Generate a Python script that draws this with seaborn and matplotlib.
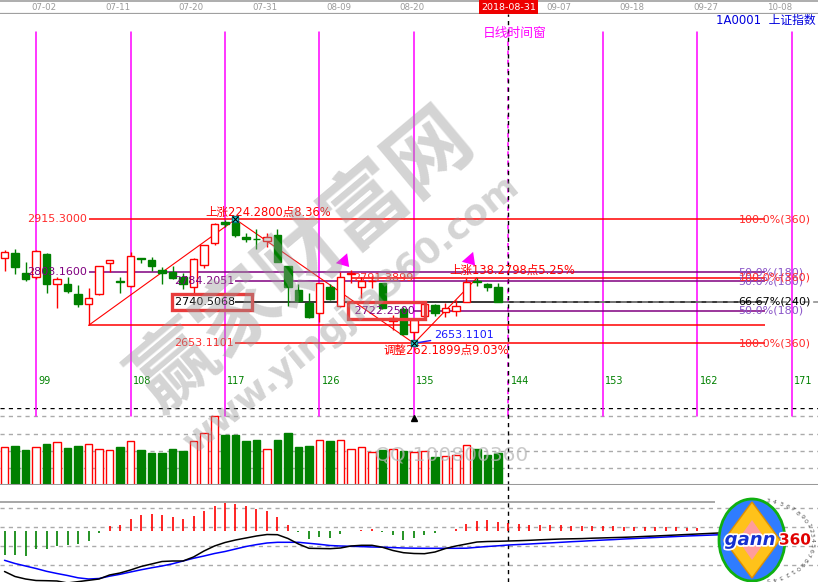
import numpy as np
import matplotlib
matplotlib.use("Agg")
import matplotlib.pyplot as plt
import matplotlib.patheffects as pe
from matplotlib.patches import Ellipse, Polygon
import seaborn as sns

# daily candles of 上证指数, numbered by bar index
bar_idx = list(range(96, 144))
opens = [2832.8, 2844.0, 2801.1, 2793.3, 2842.0, 2778.5, 2778.5, 2757.3, 2736.2, 2757.3,
         2822.3, 2783.8, 2773.6, 2832.3, 2829.2, 2808.1, 2804.5, 2792.7, 2771.5, 2818.0,
         2864.5, 2910.2, 2906.8, 2878.5, 2873.5, 2869.4, 2882.1, 2816.5, 2765.8, 2737.7,
         2716.5, 2771.5, 2732.0, 2800.0, 2771.5, 2784.5, 2780.0, 2700.2, 2725.0, 2677.6,
         2710.8, 2734.1, 2719.9, 2721.4, 2741.1, 2784.0, 2777.8, 2771.5]
highs = [2850.4, 2852.5, 2825.6, 2849.7, 2844.7, 2793.9, 2793.9, 2775.7, 2770.0, 2817.0,
         2829.5, 2792.7, 2846.2, 2832.6, 2834.9, 2814.4, 2816.5, 2802.4, 2833.0, 2862.0,
         2908.0, 2913.8, 2915.3, 2887.0, 2894.2, 2885.7, 2894.2, 2817.0, 2777.8, 2758.8,
         2781.0, 2777.8, 2803.2, 2808.1, 2793.9, 2793.9, 2781.0, 2712.9, 2730.5, 2705.0,
         2736.2, 2736.0, 2738.9, 2744.6, 2790.5, 2791.39, 2780.0, 2780.0]
lows = [2806.6, 2800.3, 2785.5, 2788.4, 2760.1, 2727.1, 2758.8, 2730.5, 2691.0, 2755.0,
        2803.2, 2758.8, 2772.0, 2822.3, 2806.6, 2778.5, 2789.1, 2767.3, 2758.8, 2811.7,
        2862.0, 2899.7, 2877.2, 2866.7, 2851.9, 2857.4, 2824.0, 2732.0, 2741.0, 2707.5,
        2698.8, 2745.0, 2729.0, 2780.0, 2748.2, 2769.4, 2725.0, 2681.2, 2670.0, 2653.11,
        2708.0, 2711.4, 2708.1, 2710.8, 2740.0, 2774.3, 2763.7, 2741.1]
closes = [2846.8, 2815.1, 2789.7, 2848.3, 2779.1, 2788.4, 2763.0, 2736.2, 2748.9, 2815.9,
          2828.6, 2783.3, 2837.1, 2832.0, 2816.5, 2801.7, 2790.5, 2778.5, 2830.7, 2860.3,
          2904.7, 2904.7, 2882.1, 2873.6, 2873.0, 2877.2, 2825.6, 2771.5, 2743.2, 2709.3,
          2780.0, 2746.8, 2793.9, 2801.0, 2785.5, 2785.5, 2727.1, 2705.9, 2672.8, 2702.4,
          2736.2, 2717.8, 2728.4, 2732.0, 2782.1, 2783.3, 2771.5, 2741.1]
volumes = [1320, 1365, 1225, 1320, 1435, 1495, 1295, 1365, 1425, 1250,
           1215, 1330, 1530, 1225, 1120, 1120, 1260, 1190, 1530, 1810,
           2405, 1750, 1750, 1540, 1575, 1250, 1575, 1820, 1330, 1365,
           1565, 1540, 1565, 1250, 1320, 1155, 1225, 1250, 1200, 1145,
           1190, 980, 1005, 1040, 1390, 1260, 1050, 1120]

# MACD (runs on past the last bar)
macd_idx = list(range(96, 165))
dif = [-41.0, -46.0, -48.5, -50.0, -50.2, -50.5, -52.5, -54.5, -52.5, -48.5,
       -44.5, -42.5, -39.5, -36.0, -33.5, -31.0, -30.5, -30.5, -26.5, -20.5,
       -15.5, -12.0, -9.5, -7.5, -5.5, -4.0, -4.2, -8.0, -13.5, -17.8,
       -18.0, -18.2, -17.5, -15.5, -14.8, -14.8, -16.8, -20.0, -22.2, -23.0,
       -23.2, -21.5, -18.0, -15.5, -13.5, -11.5, -11.0, -10.8, -10.5, -10.2,
       -9.8, -9.3, -8.9, -8.5, -8.3, -8.1, -7.7, -7.4, -7.1, -6.8,
       -6.4, -5.9, -5.5, -5.0, -4.5, -4.0, -3.5, -3.0, -2.5]
dea = [-29.8, -33.0, -35.5, -38.0, -40.8, -43.0, -45.0, -47.3, -48.5, -48.0,
       -45.7, -43.8, -41.5, -39.3, -37.3, -35.5, -33.3, -30.5, -27.8, -25.5,
       -23.0, -21.0, -18.5, -16.0, -14.1, -12.5, -11.8, -11.8, -11.8, -12.8,
       -13.8, -15.0, -15.5, -15.8, -16.1, -16.5, -16.7, -17.1, -17.5, -17.7,
       -17.8, -17.8, -17.8, -17.8, -17.7, -16.8, -16.0, -15.3, -14.5, -14.0,
       -13.5, -12.9, -12.4, -11.8, -11.2, -10.7, -10.1, -9.6, -9.1, -8.5,
       -8.0, -7.5, -7.0, -6.5, -6.0, -5.5, -5.1, -4.7, -4.3]
hist_idx = list(range(96, 163))
hist = [-24.2, -24.2, -25.2, -18.2, -18.2, -15.5, -14.5, -13.2, -10.5, -2.2,
        4.5, 5.8, 11.5, 15.5, 16.5, 15.5, 13.5, 11.5, 14.5, 19.5,
        24.5, 27.5, 26.5, 24.5, 21.5, 19.5, 13.5, 5.5, -1.2, -8.2,
        -6.2, -7.2, -3.2, -0.3, 0.5, 1.5, -1.2, -4.2, -9.2, -7.0,
        -4.5, -2.0, -0.5, 2.0, 6.5, 9.8, 10.5, 8.8, 7.2, 6.2,
        5.9, 5.6, 5.4, 5.2, 5.0, 4.8, 4.6, 4.4, 4.2, 4.0,
        3.8, 3.6, 3.5, 3.3, 3.1, 3.0, 2.8]

date_idx = [100, 107, 114, 121, 128, 135, 144, 149, 156, 163, 170]
date_labels = ["07-02", "07-11", "07-20", "07-31", "08-09", "08-20",
               "2018-08-31", "09-07", "09-18", "09-27", "10-08"]
window_idx = [99, 108, 117, 126, 135, 144, 153, 162, 171]

# gann levels: price, first bar, colour, left label, right tag
level_price = [2915.3, 2803.16, 2691.02, 2784.2051, 2740.5068, 2653.1101, 2791.3899, 2722.25]
level_start = [104, 104, 104, 118, 118, 118, 129, 135]
level_kind = ["r", "p", "r", "p", "k", "r", "r", "p"]
level_left = ["2915.3000", "2803.1600", "", "2784.2051", "2740.5068", "2653.1101", "2791.3899", "2722.2500"]
level_left_at = [104, 104, 104, 118, 118, 118, 135.1, 135.1]
level_tag = ["100.0%(360)", "50.0%(180)", "", "50.0%(180)", "66.67%(240)", "100.0%(360)", "100.0%(360)", "50.0%(180)"]

swing_idx = [104, 118, 135, 141]
swing_price = [2691.02, 2915.3, 2653.11, 2791.39]

RED, GREEN, PURPLE, MAG = "#ff0000", "#008000", "#800080", "#ff00ff"
line_col = {"r": RED, "p": PURPLE, "k": "black"}
tag_col = {"r": "#ff2a2a", "p": "#8a55c8", "k": "black"}

sns.set_theme(style="white")
plt.rcParams["font.family"] = ["DejaVu Sans", "Noto Sans CJK SC"]

W, H = 818, 582
fig = plt.figure(figsize=(8.18, 5.82), dpi=100, facecolor="white")


def rows(top, bottom):
    return [0, 1 - bottom / H, 1, (bottom - top) / H]


ax_head = fig.add_axes(rows(0, 14))
ax = fig.add_axes(rows(14, 408))
ax_vol = fig.add_axes(rows(408, 485))
ax_macd = fig.add_axes(rows(485, 582))
for a in (ax_head, ax, ax_vol, ax_macd):
    a.set_xlim(95.57, 173.48)
    a.set_axis_off()
ax_head.set_ylim(0, 1)
ax.set_ylim(2516.3, 3349.4)
ax_vol.set_ylim(0, 2695)
ax_macd.set_ylim(-51.5, 45.5)

# header with dates
ax_head.axhline(0.93, color="#a0a0a0", lw=1.2)
ax_head.axhline(0.0, color="#a0a0a0", lw=1.6)
for i, lab in zip(date_idx, date_labels):
    if lab.startswith("2018"):
        ax_head.text(i, 0.5, lab, ha="center", va="center", color="white", fontsize=6.8,
                     bbox=dict(boxstyle="square,pad=0.24", fc="#ee0000", ec="none"))
    else:
        ax_head.text(i - 0.2, 0.47, lab, ha="center", va="center", color="#9a9a9a", fontsize=6.2)

fig.text(816 / W, 1 - 20 / H, "1A0001  上证指数", ha="right", va="center", color="#0000dd", fontsize=8.5)
fig.text(515 / W, 1 - 33 / H, "日线时间窗", ha="center", va="center", color=MAG, fontsize=9.2)

# time windows
for i in window_idx:
    if i == 144:
        ax.axvline(i, 0, (408 - 32) / 394, color=MAG, lw=1.1, ls=(3, (3, 3)))
    else:
        ax.axvline(i, 0, (408 - 32) / 394, color=MAG, lw=1.1)
    ax_vol.axvline(i, (485 - 416) / 77, 1, color=MAG, lw=1.1)
    ax.text(i + 0.2, 0.0685, str(i), transform=ax.get_xaxis_transform(),
            color=GREEN, fontsize=7, va="center")
for a in (ax, ax_vol, ax_macd):
    a.axvline(144, color="black", lw=1, ls=(0, (3, 3)))

# gann levels
boxed = {"2740.5068": ("2740.5068    ", 119.3), "2722.2500": (" 2722.2500  ", 135.76)}
for p, s, k, left, lx, tag in zip(level_price, level_start, level_kind,
                                   level_left, level_left_at, level_tag):
    ax.hlines(p, s, 168.4, color=line_col[k], lw=1.1, zorder=2)
    if left in boxed:
        txt, bx = boxed[left]
        ax.text(bx, p, txt, ha="right", va="center", fontsize=8,
                color="black" if k == "k" else PURPLE, zorder=6,
                bbox=dict(boxstyle="square,pad=0.3", fc="none", ec="#e83c3c", lw=2.4))
    elif left:
        ax.text(lx - 0.15, p, left, ha="right", va="center", fontsize=8,
                color=tag_col[k] if k == "r" else PURPLE, zorder=6)
    if tag:
        ax.text(165.9, p, tag, ha="left", va="center", fontsize=8, color=tag_col[k], zorder=6)
ax.hlines(closes[-1], 143.5, 173.5, color="#888888", lw=1.1, ls=(0, (4, 3)), zorder=2)

# swing lines
ax.plot(swing_idx, swing_price, color=RED, lw=0.8, zorder=2)
for i, p in zip([swing_idx[1], swing_idx[2]], [swing_price[1], swing_price[2]]):
    ax.plot(i, p, marker="s", ms=5, color="#30e0e0", mec="#008080", zorder=7)
    ax.plot(i, p, marker="x", ms=4, color="black", mew=0.8, zorder=8)

# candles
is_up = [c >= o for o, c in zip(opens, closes)]
edge = [RED if u else GREEN for u in is_up]
face = ["white" if u else GREEN for u in is_up]
ax.vlines(bar_idx, lows, highs, colors=edge, lw=1, zorder=3)
ax.bar(bar_idx, [max(abs(c - o), 0.8) for o, c in zip(opens, closes)],
       bottom=[min(o, c) for o, c in zip(opens, closes)], width=0.72,
       color=face, edgecolor=edge, lw=1, zorder=4)

ax.text(115.1, 2930.7, "上涨224.2800点8.36%", color=RED, fontsize=8.3, va="center", zorder=6)
ax.text(138.4, 2808.1, "上涨138.2798点5.25%", color=RED, fontsize=8.3, va="center", zorder=6)
ax.text(132.05, 2638.9, "调整262.1899点9.03%", color=RED, fontsize=8.3, va="center", zorder=6)
ax.annotate("2653.1101", xy=(135, 2653.11), xytext=(136.9, 2670.6), color="#1a1aff",
            fontsize=8, va="center", zorder=6,
            arrowprops=dict(arrowstyle="-", color="#1a1aff", lw=1, shrinkA=0, shrinkB=0))
for i, p in [(129, 2810), (141, 2813)]:
    ax.annotate("", xy=(i, p), xytext=(-7, 8), textcoords="offset points", zorder=7,
                arrowprops=dict(arrowstyle="simple,head_width=0.9,head_length=0.7,tail_width=0.35",
                                color=MAG, lw=0))

# volume
for g in [600, 1200, 1800, 2400]:
    ax_vol.axhline(g, color="#aaaaaa", lw=1, ls=(0, (3, 3)), zorder=1)
ax_vol.axhline(2690, color="black", lw=1, ls=(0, (3, 3)), zorder=1)
ax_vol.axhline(0, color="#999999", lw=2.2, zorder=5)
ax_vol.bar(bar_idx, volumes, width=0.75, color=face, edgecolor=edge, lw=1, zorder=3)
ax_vol.plot(135, 2360, marker="^", ms=4, color="black", zorder=6)
ax_vol.text(131.3, 1050, "QQ:100800360", color="#b8b8b8", fontsize=14.5, va="center",
            alpha=0.75, zorder=4)

# MACD
ax_macd.hlines(28.2, 95.57, 163.7, color="#a0a0a0", lw=1.3)
for g in [22.2, 3.2, -15.5, -34.5]:
    ax_macd.axhline(g, color="#aaaaaa", lw=1, ls=(0, (3, 3)), zorder=1)
ax_macd.vlines(hist_idx, 0, hist, colors=[RED if v >= 0 else GREEN for v in hist], lw=1.2, zorder=2)
sns.lineplot(x=macd_idx, y=dea, color="#0000ff", lw=1.1, ax=ax_macd, zorder=3)
sns.lineplot(x=macd_idx, y=dif, color="black", lw=1.1, ax=ax_macd, zorder=3)
ax_macd.set_axis_off()

# watermark
fig.text(303 / W, 1 - 262 / H, "赢家财富网", rotation=40, ha="center", va="center",
         fontsize=60, fontweight="bold", color="#999999", alpha=0.42, family="Noto Sans CJK SC")
fig.text(352 / W, 1 - 314 / H, "www.yingjia360.com", rotation=39, ha="center", va="center",
         fontsize=26, fontweight="bold", color="#999999", alpha=0.42)

# gann360 badge
ax_logo = fig.add_axes([716 / W, 0, 102 / W, 85 / H])
ax_logo.set_xlim(0, 102)
ax_logo.set_ylim(0, 85)
ax_logo.set_axis_off()
ax_logo.add_patch(Ellipse((36, 42), 66, 82, fc="#2f7cff", ec="#10b010", lw=2))
ax_logo.add_patch(Polygon([(36, 80), (64, 42), (36, 4), (8, 42)], fc="#ffc21a", ec="#e09000"))
ax_logo.add_patch(Polygon([(36, 62), (50, 42), (36, 22), (22, 42)], fc="#ff9c9c", ec="none"))
ring = "34567890123456789012345"
for k, ch in enumerate(ring):
    ang = np.deg2rad(78 - k * 156 / (len(ring) - 1))
    ax_logo.text(40 + 56 * np.cos(ang), 42 + 40 * np.sin(ang), ch, fontsize=4.5, color="#555555",
                 rotation=np.rad2deg(ang) - 90, ha="center", va="center")
ax_logo.text(34, 42, "gann", ha="center", va="center", color="#1530d0", fontsize=13,
             style="italic", fontweight="bold",
             path_effects=[pe.withStroke(linewidth=2.5, foreground="white")])
ax_logo.text(79, 42, "360", ha="center", va="center", color="#e00000", fontsize=11,
             fontweight="bold", path_effects=[pe.withStroke(linewidth=2, foreground="white")])

fig.savefig("out.png", dpi=100, facecolor="white")
